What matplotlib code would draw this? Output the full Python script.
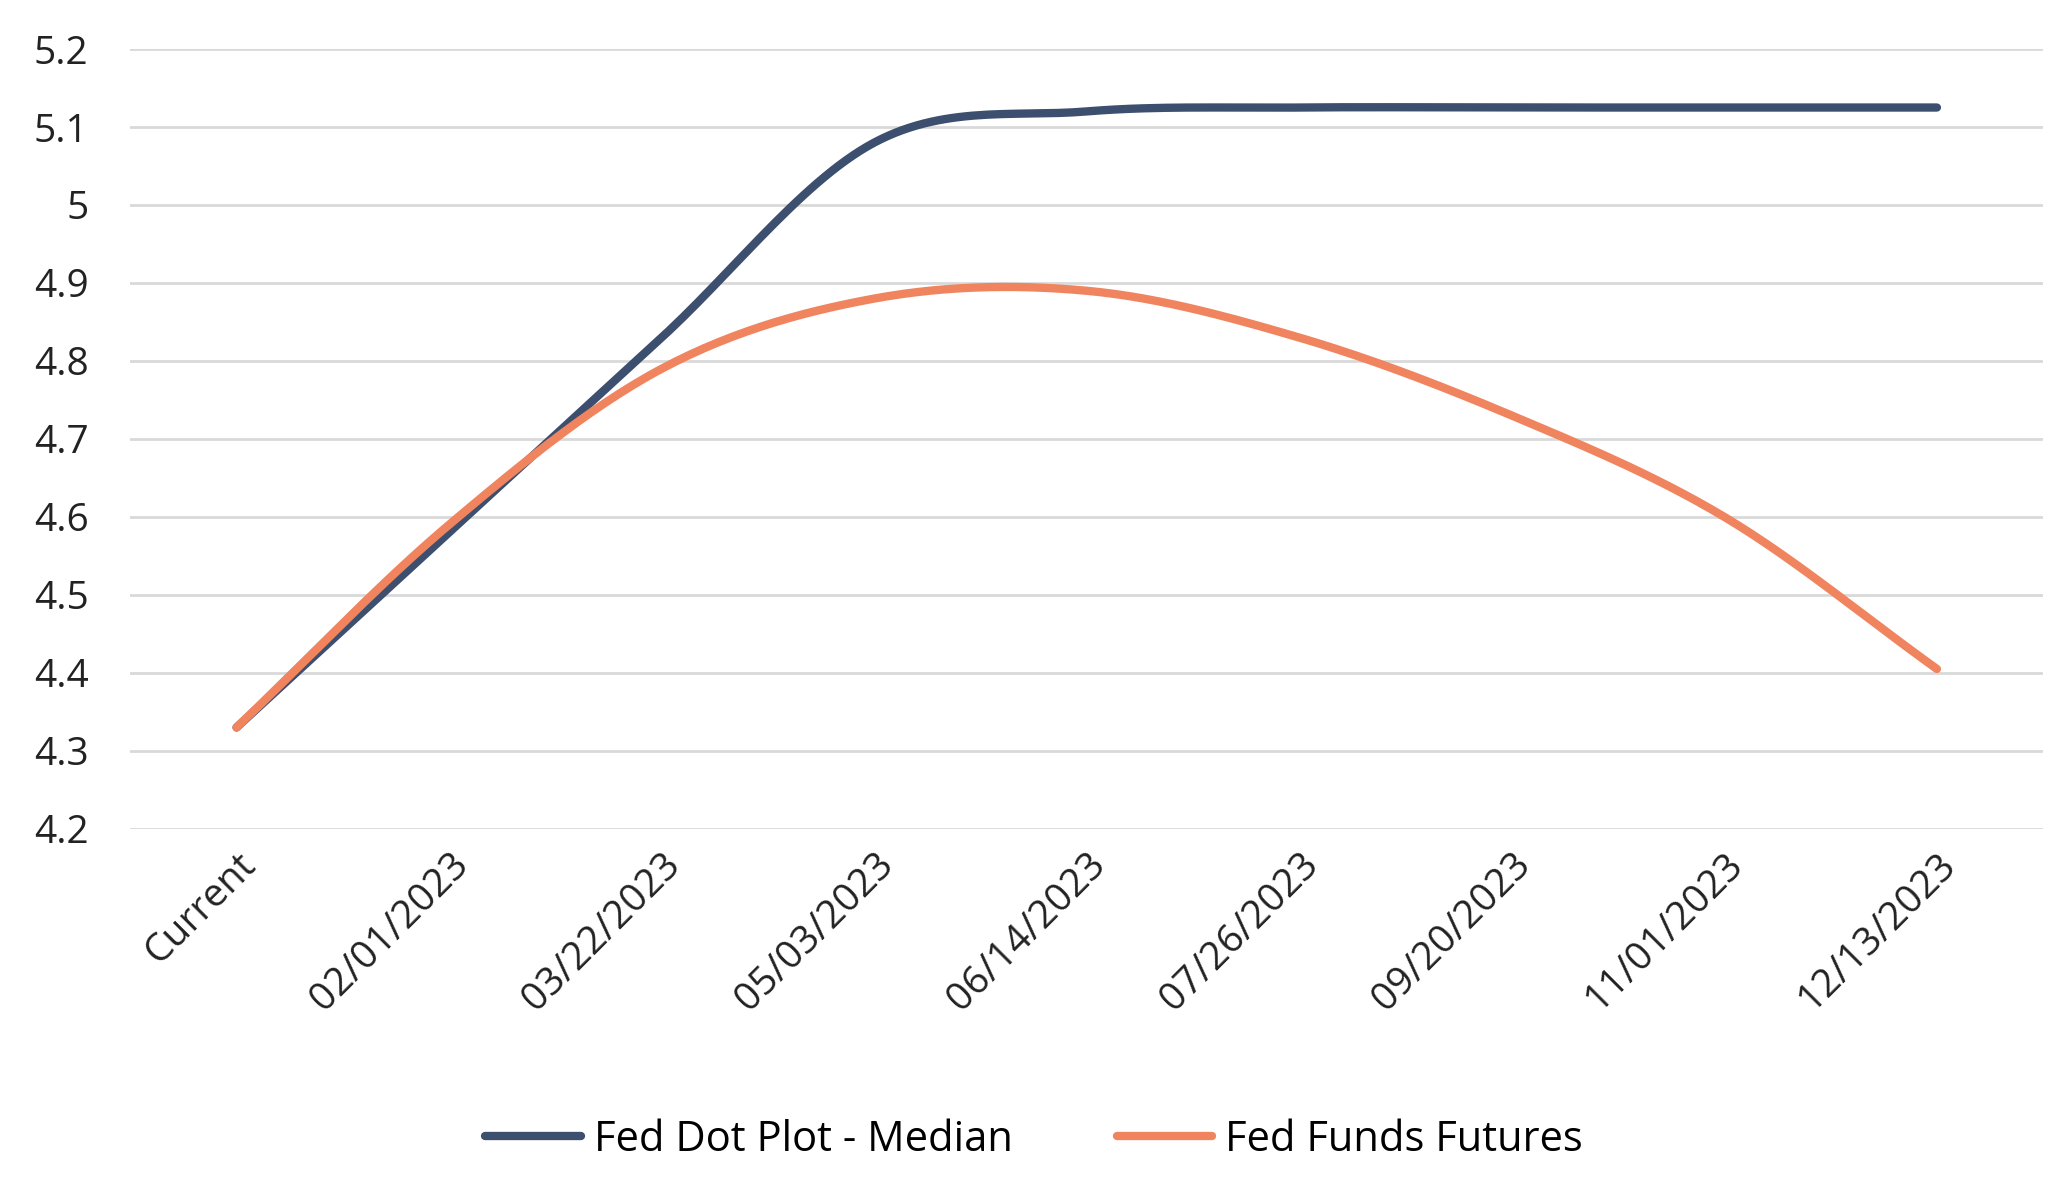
import numpy as np
import matplotlib.pyplot as plt

plt.rcParams['font.family'] = ['Open Sans', 'DejaVu Sans']

categories = ["Current", "02/01/2023", "03/22/2023", "05/03/2023", "06/14/2023",
              "07/26/2023", "09/20/2023", "11/01/2023", "12/13/2023"]
dot_plot = [4.33, 4.58, 4.83, 5.08, 5.12, 5.125, 5.125, 5.125, 5.125]
futures = [4.33, 4.59, 4.79, 4.88, 4.89, 4.83, 4.73, 4.60, 4.405]
y_ticks = [4.2, 4.3, 4.4, 4.5, 4.6, 4.7, 4.8, 4.9, 5.0, 5.1, 5.2]
y_labels = ["4.2", "4.3", "4.4", "4.5", "4.6", "4.7", "4.8", "4.9", "5", "5.1", "5.2"]


def smooth(y, n=30):
    # Catmull-Rom spline through the points, like Excel's smoothed line
    y = np.asarray(y, float)
    p = np.concatenate([[2 * y[0] - y[1]], y, [2 * y[-1] - y[-2]]])
    xs, ys = [], []
    t = np.linspace(0, 1, n, endpoint=False)
    for i in range(len(y) - 1):
        p0, p1, p2, p3 = p[i], p[i + 1], p[i + 2], p[i + 3]
        seg = 0.5 * (2 * p1 + (-p0 + p2) * t + (2 * p0 - 5 * p1 + 4 * p2 - p3) * t ** 2
                     + (-p0 + 3 * p1 - 3 * p2 + p3) * t ** 3)
        xs.extend(i + t)
        ys.extend(seg)
    xs.append(len(y) - 1)
    ys.append(y[-1])
    return np.array(xs), np.array(ys)


fig = plt.figure(figsize=(20.68, 11.96), dpi=100)
ax = fig.add_axes([0.063, 0.307, 0.925, 0.652])

for vals, color, label in [(dot_plot, "#3d4f6e", "Fed Dot Plot - Median"),
                           (futures, "#f0845f", "Fed Funds Futures")]:
    xs, ys = smooth(vals)
    ax.plot(xs, ys, color=color, lw=6, label=label, solid_capstyle="round")

ax.set_xlim(-0.5, 8.5)
ax.set_ylim(4.2, 5.2)
ax.set_yticks(y_ticks)
ax.set_yticklabels(y_labels)
ax.set_xticks(range(len(categories)))
ax.set_xticklabels(categories, rotation=45, ha="right", rotation_mode="anchor")
ax.tick_params(axis="both", length=0, labelsize=28, colors="#222222")
ax.tick_params(axis="y", pad=30)
ax.tick_params(axis="x", pad=12)
ax.grid(axis="y", color="#d9d9d9", lw=2)
ax.set_axisbelow(True)
for s in ax.spines.values():
    s.set_visible(False)

fig.legend(loc="center", bbox_to_anchor=(0.5, 0.047), ncol=2, frameon=False,
           fontsize=30, handlelength=2.3, columnspacing=2.5, handletextpad=0.3)

fig.savefig("out.png", dpi=100)
